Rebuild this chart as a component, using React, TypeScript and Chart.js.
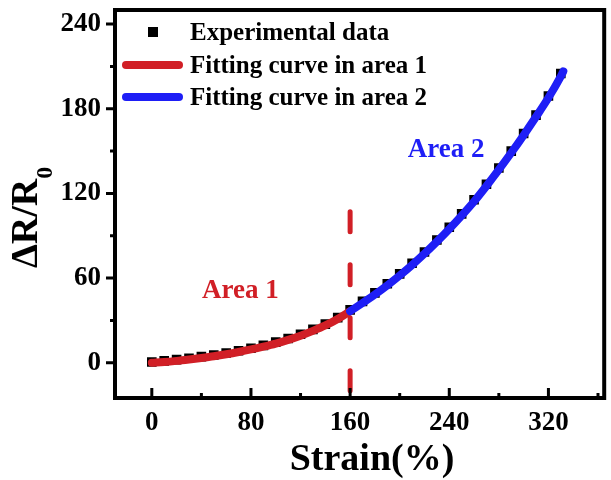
import React, { useEffect, useRef } from 'react';
import { Chart, registerables } from 'chart.js';

Chart.register(...registerables);

// ---------- data ----------
const strainPoints = [0, 10, 20, 30, 40, 50, 60, 70, 80, 90, 100, 110, 120, 130, 140, 150, 160, 170, 180, 190, 200, 210, 220, 230, 240, 250, 260, 270, 280, 290, 300, 310, 320, 330];
const experimentalValues = [0.5, 1.3, 2.2, 3.2, 4.3, 5.5, 6.9, 8.5, 10.3, 12.3, 14.6, 17.2, 20.2, 23.6, 27.4, 32, 37.5, 43.5, 49.5, 56, 63, 70.5, 78.5, 87, 96, 105.5, 115.5, 126.5, 138, 150, 162.5, 175.5, 189, 205];

const fit1Strain = [0, 10, 20, 30, 40, 50, 60, 70, 80, 90, 100, 110, 120, 130, 140, 150, 160];
const fit1Values = [0, 0.5, 1.3, 2.3, 3.4, 4.6, 6, 7.6, 9.4, 11.4, 13.6, 16.2, 19.2, 22.6, 26.4, 31, 36.5];

const fit2Strain = [160, 170, 180, 190, 200, 210, 220, 230, 240, 250, 260, 270, 280, 290, 300, 310, 320, 330, 332];
const fit2Values = [36.5, 42.3, 48.3, 54.8, 61.8, 69.3, 77.3, 85.8, 94.8, 104.3, 114.3, 125.3, 136.8, 148.8, 161.3, 174.3, 187.8, 203, 206.5];

const boundaryStrain = [160, 160];
const boundaryValues = [107, -25];

const xTicks = [0, 80, 160, 240, 320];
const xMinorTicks = [40, 120, 200, 280, 360];
const yTicks = [0, 60, 120, 180, 240];
const yMinorTicks = [30, 90, 150, 210];

const legendLabels = ['Experimental data', 'Fitting curve in area 1', 'Fitting curve in area 2'];
const areaLabelTexts = ['Area 1', 'Area 2'];
const areaLabelAnchors = [
  { x: 71.5, y: 46 },
  { x: 237.5, y: 146 },
];

const xTitle = 'Strain(%)';
const yTitleMain = 'ΔR/R';
const yTitleSub = '0';

// ---------- styles ----------
const FONT = '"Liberation Serif", "Times New Roman", serif';
const RED = '#d11f26';
const BLUE = '#1e1ef6';
const BLACK = '#000000';

const toPts = (xs: number[], ys: number[]) => xs.map((x, i) => ({ x, y: ys[i] }));

const decorPlugin = {
  id: 'decor',
  afterDraw(chart: any) {
    const { ctx, chartArea } = chart;
    const xs = chart.scales.x;
    const ys = chart.scales.y;
    const { left, right, top, bottom } = chartArea;
    ctx.save();

    // ticks
    ctx.strokeStyle = BLACK;
    ctx.lineWidth = 3;
    ctx.lineCap = 'butt';
    ctx.beginPath();
    yTicks.forEach((v) => {
      const p = ys.getPixelForValue(v);
      ctx.moveTo(left, p);
      ctx.lineTo(left - 9, p);
    });
    yMinorTicks.forEach((v) => {
      const p = ys.getPixelForValue(v);
      ctx.moveTo(left, p);
      ctx.lineTo(left - 5, p);
    });
    xTicks.forEach((v) => {
      const p = xs.getPixelForValue(v);
      ctx.moveTo(p, bottom);
      ctx.lineTo(p, bottom - 10);
    });
    xMinorTicks.forEach((v) => {
      const p = xs.getPixelForValue(v);
      ctx.moveTo(p, bottom);
      ctx.lineTo(p, bottom - 5);
    });
    ctx.stroke();

    // frame
    ctx.lineWidth = 4;
    ctx.strokeRect(left, top, right - left, bottom - top);

    // legend
    const lx = left + 75;
    ctx.fillStyle = BLACK;
    ctx.fillRect(left + 33, top + 17, 10, 10);
    ctx.lineCap = 'round';
    ctx.lineWidth = 8;
    ctx.strokeStyle = RED;
    ctx.beginPath();
    ctx.moveTo(left + 11, top + 55);
    ctx.lineTo(left + 64, top + 55);
    ctx.stroke();
    ctx.strokeStyle = BLUE;
    ctx.beginPath();
    ctx.moveTo(left + 11, top + 87);
    ctx.lineTo(left + 64, top + 87);
    ctx.stroke();
    ctx.font = `bold 25px ${FONT}`;
    ctx.textAlign = 'left';
    ctx.textBaseline = 'alphabetic';
    ctx.fillStyle = BLACK;
    const baselines = [30, 63, 95];
    legendLabels.forEach((t, i) => ctx.fillText(t, lx, top + baselines[i]));

    // area labels
    ctx.font = `bold 27px ${FONT}`;
    ctx.textAlign = 'center';
    const colors = [RED, BLUE];
    areaLabelTexts.forEach((t, i) => {
      ctx.fillStyle = colors[i];
      ctx.fillText(t, xs.getPixelForValue(areaLabelAnchors[i].x), ys.getPixelForValue(areaLabelAnchors[i].y));
    });

    // x title
    ctx.fillStyle = BLACK;
    ctx.font = `bold 38px ${FONT}`;
    ctx.textAlign = 'center';
    ctx.fillText(xTitle, 372, 470);

    // y title (rotated)
    ctx.save();
    ctx.translate(37, 268);
    ctx.rotate(-Math.PI / 2);
    ctx.textAlign = 'left';
    ctx.font = `bold 38px ${FONT}`;
    ctx.fillText(yTitleMain, 0, 0);
    const w = ctx.measureText(yTitleMain).width;
    ctx.font = `bold 24px ${FONT}`;
    ctx.fillText(yTitleSub, w, 15);
    ctx.restore();

    ctx.restore();
  },
};

export default function App() {
  const ref = useRef<HTMLCanvasElement>(null);

  useEffect(() => {
    document.body.style.margin = '0';
    const canvas = ref.current;
    if (!canvas) return;
    const chart = new Chart(canvas, {
      type: 'scatter',
      data: {
        datasets: [
          {
            label: 'Fitting curve in area 2',
            data: toPts(fit2Strain, fit2Values),
            showLine: true,
            borderColor: BLUE,
            backgroundColor: BLUE,
            borderWidth: 8,
            borderCapStyle: 'round',
            pointRadius: 0,
            cubicInterpolationMode: 'monotone',
            order: 1,
          },
          {
            label: 'Fitting curve in area 1',
            data: toPts(fit1Strain, fit1Values),
            showLine: true,
            borderColor: RED,
            backgroundColor: RED,
            borderWidth: 8,
            borderCapStyle: 'round',
            pointRadius: 0,
            cubicInterpolationMode: 'monotone',
            order: 2,
          },
          {
            label: 'boundary',
            data: toPts(boundaryStrain, boundaryValues),
            showLine: true,
            borderColor: RED,
            borderWidth: 5,
            borderDash: [20, 33],
            borderCapStyle: 'round',
            pointRadius: 0,
            order: 3,
          },
          {
            label: 'Experimental data',
            data: toPts(strainPoints, experimentalValues),
            showLine: false,
            pointStyle: 'rect',
            pointRadius: 6.8,
            pointBorderWidth: 0,
            backgroundColor: BLACK,
            borderColor: BLACK,
            order: 4,
          },
        ],
      },
      options: {
        responsive: false,
        animation: false,
        events: [],
        layout: { padding: { top: 10, right: 3, left: 0, bottom: 0 } },
        plugins: {
          legend: { display: false },
          tooltip: { enabled: false },
        },
        scales: {
          x: {
            type: 'linear',
            min: -29.7,
            max: 365,
            grid: { display: false, drawTicks: false },
            border: { display: false },
            afterBuildTicks: (s: any) => {
              s.ticks = xTicks.map((v) => ({ value: v }));
            },
            afterFit: (s: any) => {
              s.height = 82;
              s.paddingLeft = 0;
              s.paddingRight = 0;
            },
            ticks: {
              color: BLACK,
              padding: 9,
              maxRotation: 0,
              autoSkip: false,
              font: { family: FONT, size: 27, weight: 'bold' },
            },
          },
          y: {
            type: 'linear',
            min: -25,
            max: 250,
            grid: { display: false, drawTicks: false },
            border: { display: false },
            afterBuildTicks: (s: any) => {
              s.ticks = yTicks.map((v) => ({ value: v }));
            },
            afterFit: (s: any) => {
              s.width = 115;
              s.paddingTop = 0;
              s.paddingBottom = 0;
            },
            ticks: {
              color: BLACK,
              padding: 14,
              autoSkip: false,
              font: { family: FONT, size: 27, weight: 'bold' },
            },
          },
        },
      },
      plugins: [decorPlugin],
    });
    return () => chart.destroy();
  }, []);

  return (
    <div style={{ position: 'absolute', left: 0, top: 0, width: 611, height: 480, background: '#fff' }}>
      <canvas ref={ref} width={611} height={480} />
    </div>
  );
}
